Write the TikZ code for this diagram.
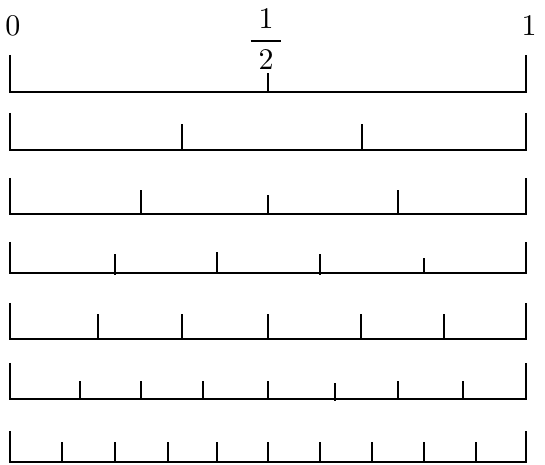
\documentclass[tikz,border=0pt]{standalone}
\usepackage{amsmath}
\tikzset{
  rule/.style={line width=0.6pt, line join=miter},
  tick/.style={line width=0.6pt},
  lab/.style={inner sep=0pt, font=\normalsize}
}
\begin{document}
\begin{tikzpicture}[x=0.3333pt, y=-0.3333pt]
\useasboundingbox (0,0) rectangle (545,465);
% labels
\node[lab] (zero) at (13,26) {$0$};
\node[lab] (one) at (529,26) {$1$};
\node[lab] (half) at (266,39) {$\dfrac{\hspace{2.6pt}1\hspace{2.6pt}}{2}$};
% line 1 : halves
\draw[rule] (10,55) -- (10,92) -- (526,92) -- (526,55);
\draw[tick] (268,92) -- ++(0,-19);
% line 2 : thirds
\draw[rule] (10,113) -- (10,150) -- (526,150) -- (526,113);
\foreach \x in {182,362} \draw[tick] (\x,150) -- ++(0,-26);
% line 3 : quarters
\draw[rule] (10,178) -- (10,214) -- (526,214) -- (526,178);
\draw[tick] (141,214) -- ++(0,-24);
\draw[tick] (268,214) -- ++(0,-19);
\draw[tick] (398,214) -- ++(0,-24);
% line 4 : fifths
\draw[rule] (10,242) -- (10,273) -- (526,273) -- (526,242);
\draw[tick] (115,275) -- (115,254);
\draw[tick] (217,273) -- ++(0,-21);
\draw[tick] (320,275) -- (320,254);
\draw[tick] (424,273) -- ++(0,-15);
% line 5 : sixths
\draw[rule] (10,303) -- (10,339) -- (526,339) -- (526,303);
\foreach \x in {98,182,268,361,444} \draw[tick] (\x,339) -- ++(0,-25);
% line 6 : eighths
\draw[rule] (10,363) -- (10,399) -- (526,399) -- (526,363);
\foreach \x in {80,141,203,268,398,463} \draw[tick] (\x,399) -- ++(0,-18);
\draw[tick] (335,401) -- (335,383);
% line 7 : tenths
\draw[rule] (10,431) -- (10,462) -- (526,462) -- (526,431);
\foreach \x in {62,115,168,217,268,320,372,424,476} \draw[tick] (\x,462) -- ++(0,-20);
\end{tikzpicture}
\end{document}
